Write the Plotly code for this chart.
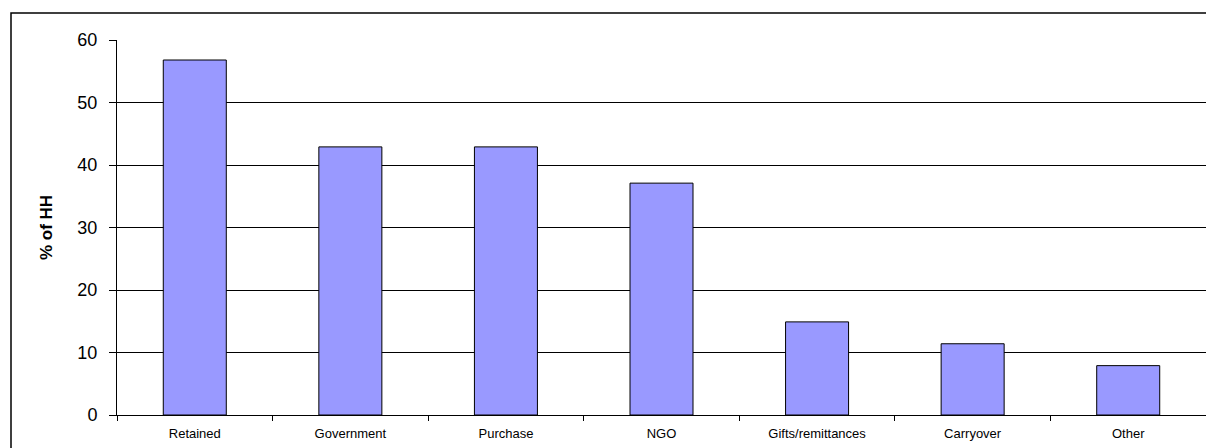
import plotly.graph_objects as go

categories = ["Retained", "Government", "Purchase", "NGO", "Gifts/remittances", "Carryover", "Other"]
values = [56.8, 42.9, 42.9, 37.1, 14.9, 11.4, 7.9]
y_ticks = [0, 10, 20, 30, 40, 50, 60]

W, H = 1206, 448
L, R, T, B = 117, 0, 40, 32.5
pw = W - L - R
ph = H - T - B

fig = go.Figure(go.Bar(
    x=categories, y=values, width=0.405,
    marker=dict(color="#9999FF", line=dict(color="#000000", width=1)),
))

fig.update_layout(
    width=W, height=H,
    margin=dict(l=L, r=R, t=T, b=B, pad=0),
    plot_bgcolor="white", paper_bgcolor="white",
    showlegend=False,
    font=dict(family="Liberation Sans, Arial, sans-serif", color="#000"),
)
fig.update_xaxes(
    type="category", showgrid=False, showline=True, linecolor="#000", linewidth=1,
    ticks="outside", tickson="boundaries", ticklen=5, tickcolor="#000",
    tickfont=dict(size=13), ticklabelstandoff=6, range=[-0.5, 6.5],
)
fig.update_yaxes(
    range=[0, 60], tickvals=y_ticks, showgrid=True, gridcolor="#000", gridwidth=1,
    showline=True, linecolor="#000", linewidth=1, ticks="outside", ticklen=7,
    tickcolor="#000", tickfont=dict(size=18), ticklabelstandoff=8,
    zeroline=False,
    title=dict(text="<b>% of HH</b>", font=dict(size=17), standoff=20),
)

# outer chart border
x0 = (11 - L) / pw
y1 = (H - B - 13) / ph
fig.add_shape(type="rect", xref="paper", yref="paper",
              x0=x0, x1=(W + 5 - L) / pw, y0=-(B + 10) / ph, y1=y1,
              line=dict(color="#000", width=1.5), layer="below")

fig.write_html("out.html")
